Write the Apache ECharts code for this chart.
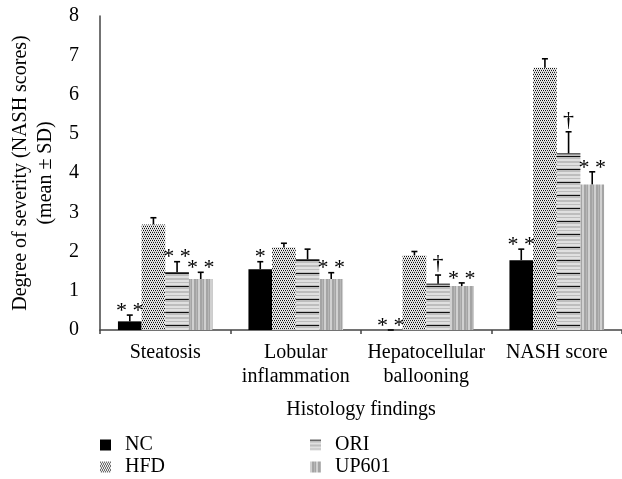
<!DOCTYPE html>
<html><head><meta charset="utf-8">
<script src="https://cdn.jsdelivr.net/npm/echarts@6/dist/echarts.min.js"></script>
<style>html,body{margin:0;padding:0;background:#fff}#c{width:622px;height:479px}</style>
</head><body><div id="c"></div>
<script>
const categories = ['Steatosis', 'Lobular\ninflammation', 'Hepatocellular\nballooning', 'NASH score'];
const groups = ['NC', 'HFD', 'ORI', 'UP601'];
const ncMean  = [0.22, 1.55, 0.00, 1.78];
const ncSD    = [0.16, 0.19, 0.00, 0.28];
const hfdMean = [2.69, 2.10, 1.90, 6.68];
const hfdSD   = [0.17, 0.11, 0.10, 0.23];
const oriMean = [1.47, 1.80, 1.18, 4.50];
const oriSD   = [0.27, 0.26, 0.22, 0.55];
const upMean  = [1.30, 1.30, 1.12, 3.71];
const upSD    = [0.17, 0.16, 0.08, 0.32];
const ncSig   = ['* *', '*', '* *', '* *'];
const hfdSig  = ['', '', '', ''];
const oriSig  = ['* *', '', '†', '†'];
const upSig   = ['* *', '* *', '* *', '* *'];

const means = [ncMean, hfdMean, oriMean, upMean];
const sds = [ncSD, hfdSD, oriSD, upSD];
const sigs = [ncSig, hfdSig, oriSig, upSig];

const FONT = 'Liberation Serif';
const FS = 20;
const GAP = 0.275;

function pat(w, h, fn) {
  const c = document.createElement('canvas');
  c.width = w; c.height = h;
  fn(c.getContext('2d'));
  return { image: c, repeat: 'repeat' };
}
const fills = [
  '#000000',
  pat(4, 4, g => {
    g.fillStyle = '#7a7a7a'; g.fillRect(0, 0, 4, 4);
    g.fillStyle = '#111111'; g.fillRect(0, 0, 1, 1); g.fillRect(2, 0, 1, 1); g.fillRect(1, 2, 1, 1); g.fillRect(3, 2, 1, 1);
    g.fillStyle = '#ffffff'; g.fillRect(1, 0, 1, 1); g.fillRect(3, 0, 1, 1); g.fillRect(0, 2, 1, 1); g.fillRect(2, 2, 1, 1);
    g.fillStyle = '#cfcfcf'; g.fillRect(0, 1, 4, 1); g.fillRect(0, 3, 4, 1);
  }),
  pat(4, 13, g => {
    g.fillStyle = '#bdbdbd'; g.fillRect(0, 0, 4, 13);
    g.fillStyle = '#e0e0e0'; g.fillRect(0, 3, 4, 2); g.fillRect(0, 7, 4, 2); g.fillRect(0, 10, 4, 2);
    g.fillStyle = '#111111'; g.fillRect(0, 0, 4, 1);
  }),
  pat(6, 13, g => {
    g.fillStyle = '#a4a4a4'; g.fillRect(0, 0, 6, 13);
    g.fillStyle = '#d0d0d0'; g.fillRect(0, 0, 2, 13);
    g.fillStyle = '#b6b6b6'; g.fillRect(4, 0, 1, 13);
  })
];

const barSeries = groups.map((name, gi) => ({
  name: name,
  type: 'bar',
  barGap: '0%',
  barCategoryGap: (GAP * 100) + '%',
  data: means[gi],
  itemStyle: { color: fills[gi] },
  emphasis: { disabled: true },
  z: 2
}));

const errData = [];
groups.forEach((g, gi) => {
  categories.forEach((c, ci) => {
    errData.push([ci, gi, means[gi][ci], sds[gi][ci]]);
  });
});

const errSeries = {
  type: 'custom',
  z: 5,
  silent: true,
  encode: { x: 0, y: 2 },
  data: errData,
  renderItem: function (params, api) {
    const ci = api.value(0), gi = api.value(1), m = api.value(2), sd = api.value(3);
    const band = api.size([1, 0])[0];
    const bw = band * (1 - GAP) / 4;
    const base = api.coord([ci, m]);
    const x = base[0] + (gi - 1.5) * bw;
    const top = api.coord([ci, m + sd])[1];
    const ch = [];
    if (gi === 2 && m > 0) ch.push({ type: 'line', shape: { x1: x - bw / 2, y1: base[1] + 0.5, x2: x + bw / 2, y2: base[1] + 0.5 }, style: { stroke: '#111', lineWidth: 1 } });
    if (sd > 0) ch.push({ type: 'line', shape: { x1: x, y1: base[1], x2: x, y2: top }, style: { stroke: '#000', lineWidth: 1.6 } });
    ch.push({ type: 'line', shape: { x1: x - 3, y1: top, x2: x + 3, y2: top }, style: { stroke: '#000', lineWidth: 1.6 } });
    const lab = sigs[gi][ci];
    if (lab) {
      const dagger = lab === '†';
      ch.push({
        type: 'text',
        x: x, y: dagger ? top - 1 : top + 7,
        style: {
          text: lab, fill: '#000', font: '22px ' + FONT,
          textAlign: 'center', textVerticalAlign: 'bottom'
        }
      });
    }
    return { type: 'group', children: ch };
  }
};

function leg(name, left, top) {
  return {
    data: [name], left: left, top: top, itemWidth: 11, itemHeight: 11, icon: 'rect', selectedMode: false,
    textStyle: { fontFamily: FONT, fontSize: FS, color: '#000', padding: [0, 0, 0, 9] }
  };
}

const chart = echarts.init(document.getElementById('c'), null, { renderer: 'canvas' });
chart.setOption({
  animation: false,
  backgroundColor: '#fff',
  textStyle: { fontFamily: FONT, color: '#000' },
  grid: { left: 95, top: 16, width: 530, height: 314, containLabel: false },
  legend: [
    leg('NC', 95, 430),
    leg('HFD', 95, 452),
    leg('ORI', 305, 430),
    leg('UP601', 305, 452)
  ],
  xAxis: {
    type: 'category',
    data: categories,
    name: 'Histology findings',
    nameLocation: 'middle',
    nameGap: 70,
    nameTextStyle: { fontFamily: FONT, fontSize: FS, color: '#000' },
    axisLine: { lineStyle: { color: '#444', width: 1.5 } },
    axisTick: { show: true, length: 4, lineStyle: { color: '#444', width: 1.5 } },
    axisLabel: { fontFamily: FONT, fontSize: FS, color: '#000', margin: 11, lineHeight: 24, interval: 0 }
  },
  yAxis: {
    type: 'value',
    min: 0, max: 8, interval: 1,
    name: 'Degree of severity (NASH scores)\n(mean ± SD)',
    nameLocation: 'middle',
    nameGap: 42,
    nameTextStyle: { fontFamily: FONT, fontSize: FS, color: '#000', lineHeight: 25 },
    axisLine: { show: true, lineStyle: { color: '#444', width: 1.5 } },
    axisTick: { show: false },
    splitLine: { show: false },
    axisLabel: { fontFamily: FONT, fontSize: FS, color: '#000', margin: 21 }
  },
  series: barSeries.concat([errSeries])
});
</script>
</body></html>
